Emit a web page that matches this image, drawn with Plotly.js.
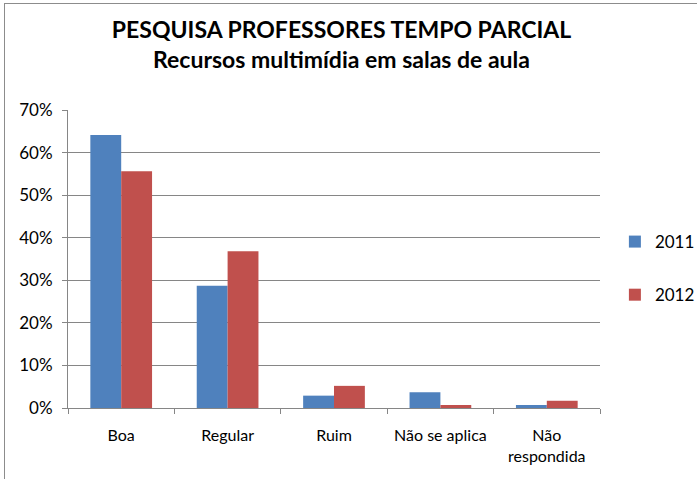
<!DOCTYPE html>
<html>
<head>
<meta charset="utf-8">
<script src="https://cdn.plot.ly/plotly-3.0.1.min.js"></script>
<style>
  body { margin: 0; background: #fff; }
  #wrap { position: relative; width: 697px; height: 479px; overflow: hidden; }
  #chart { width: 697px; height: 479px; }
  #frame { position: absolute; left: 4px; top: 3px; width: 720px; height: 500px;
           border: 1px solid #8c8c8c; pointer-events: none; }
</style>
</head>
<body>
<div id="wrap">
  <div id="chart"></div>
  <div id="frame"></div>
</div>
<script>
// categorias e valores
var categorias = ['Boa', 'Regular', 'Ruim', 'Não se aplica', 'Não<br>respondida'];
var valores2011 = [0.641, 0.287, 0.029, 0.037, 0.007];
var valores2012 = [0.556, 0.368, 0.052, 0.007, 0.017];

var CHART = document.getElementById('chart');

var dados = [{
    x: categorias, y: valores2011, type: 'bar', name: '2011',
    marker: { color: '#4F81BD' }, legendgroup: 'a'
}, {
    x: categorias, y: valores2012, type: 'bar', name: '2012',
    marker: { color: '#C0504D' }, legendgroup: 'b'
}];

var layout = {
    width: 697, height: 479,
    margin: { l: 68, r: 97, t: 110, b: 71, autoexpand: false },
    font: { family: 'Lato, Calibri, sans-serif', size: 17, color: '#000' },
    title: {
        text: '<b>PESQUISA PROFESSORES TEMPO PARCIAL<br>Recursos multimídia em salas de aula</b>',
        font: { size: 23, family: 'Lato, Calibri, sans-serif' },
        x: 0.49, xanchor: 'center', y: 0.921, yanchor: 'top'
    },
    barmode: 'group', bargap: 0.42, bargroupgap: 0,
    xaxis: {
        type: 'category', tickson: 'boundaries', ticks: 'outside', ticklen: 5,
        tickcolor: '#868686', showline: true, linecolor: '#868686', linewidth: 1,
        showgrid: false, ticklabelstandoff: 13, tickangle: 0,
        tickfont: { size: 16 }
    },
    yaxis: {
        range: [0, 0.7], dtick: 0.1, tickformat: '.0%',
        ticks: 'outside', ticklen: 5, tickcolor: '#868686',
        showline: true, linecolor: '#868686', linewidth: 1,
        showgrid: true, gridcolor: '#868686', gridwidth: 1, zeroline: false,
        ticklabelstandoff: 6
    },
    legend: {
        x: 1.028, xanchor: 'left', y: 0.468, yanchor: 'middle',
        tracegroupgap: 28, font: { size: 17 }, itemwidth: 30
    },
    showlegend: true,
    paper_bgcolor: '#fff', plot_bgcolor: '#fff'
};

var config = { displayModeBar: false, staticPlot: true };

Plotly.newPlot(CHART, dados, layout, config);
</script>
</body>
</html>
